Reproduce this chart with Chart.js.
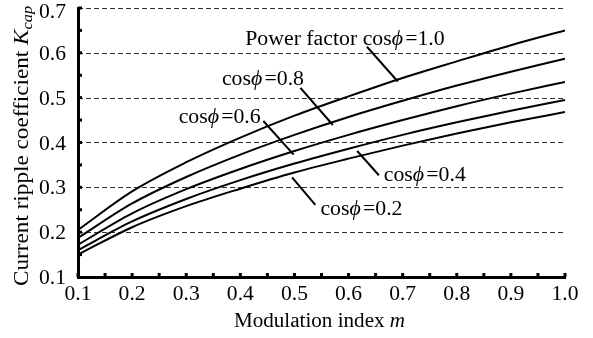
<!DOCTYPE html>
<html>
<head>
<meta charset="utf-8">
<script src="https://cdn.jsdelivr.net/npm/chart.js@4.4.0/dist/chart.umd.min.js"></script>
<style>
  html, body { margin: 0; padding: 0; background: #fff; }
  #chart { display: block; }
</style>
</head>
<body>
<canvas id="chart" width="593" height="338"></canvas>
<script>
// modulation index m
const mValues = [0.1, 0.2, 0.3, 0.4, 0.5, 0.6, 0.7, 0.8, 0.9, 1.0];

// K_cap for each power factor
const kPf10 = [0.205, 0.291, 0.356, 0.411, 0.460, 0.503, 0.544, 0.581, 0.617, 0.650];
const kPf08 = [0.187, 0.264, 0.323, 0.373, 0.417, 0.457, 0.493, 0.527, 0.558, 0.587];
const kPf06 = [0.172, 0.242, 0.296, 0.341, 0.381, 0.417, 0.450, 0.481, 0.509, 0.535];
const kPf04 = [0.160, 0.224, 0.274, 0.316, 0.353, 0.386, 0.417, 0.445, 0.471, 0.495];
const kPf02 = [0.150, 0.211, 0.258, 0.297, 0.333, 0.364, 0.393, 0.420, 0.445, 0.468];

const xTicks = [0.1, 0.2, 0.3, 0.4, 0.5, 0.6, 0.7, 0.8, 0.9, 1.0];
const yTicks = [0.1, 0.2, 0.3, 0.4, 0.5, 0.6, 0.7];
const gridValues = [0.2, 0.3, 0.4, 0.5, 0.6, 0.7];
const xMinor = [0.1, 0.15, 0.2, 0.25, 0.3, 0.35, 0.4, 0.45, 0.5, 0.55, 0.6, 0.65, 0.7, 0.75, 0.8, 0.85, 0.9, 0.95, 1.0];
const yMinor = [0.15, 0.2, 0.25, 0.3, 0.35, 0.4, 0.45, 0.5, 0.55, 0.6, 0.65, 0.7];

// curve labels: text start (m, K) and leader line (from -> to) in data units
const labels = [
  { pre: 'Power factor cos', val: '1.0', at: [0.409, 0.617], from: [0.634, 0.6135], to: [0.691, 0.536] },
  { pre: 'cos', val: '0.8', at: [0.366, 0.529], from: [0.511, 0.522], to: [0.571, 0.439] },
  { pre: 'cos', val: '0.6', at: [0.286, 0.4446], from: [0.4425, 0.448], to: [0.4985, 0.373] },
  { pre: 'cos', val: '0.4', at: [0.665, 0.3133], from: [0.616, 0.381], to: [0.656, 0.327] },
  { pre: 'cos', val: '0.2', at: [0.548, 0.2383], from: [0.4956, 0.3223], to: [0.5386, 0.2608] }
];

const FONT = "'Liberation Serif', 'Times New Roman', serif";
const FS = 20;

function pts(vals) {
  return vals.map((v, i) => ({ x: mValues[i], y: v }));
}

// draws mixed upright/italic runs, stretched horizontally by sx
function drawParts(ctx, parts, x, y, align, sx) {
  let total = 0;
  parts.forEach(p => {
    ctx.font = (p.it ? 'italic ' : '') + p.size + 'px ' + FONT;
    p.w = ctx.measureText(p.t).width;
    total += p.w + (p.gap || 0);
  });
  ctx.save();
  ctx.translate(x, y);
  ctx.scale(sx || 1, 1);
  let cx = align === 'center' ? -total / 2 : align === 'right' ? -total : 0;
  ctx.textAlign = 'left';
  parts.forEach(p => {
    ctx.font = (p.it ? 'italic ' : '') + p.size + 'px ' + FONT;
    cx += p.gap || 0;
    ctx.fillText(p.t, cx, p.dy || 0);
    cx += p.w;
  });
  ctx.restore();
}

const decor = {
  id: 'decor',
  beforeDatasetsDraw(chart) {
    const { ctx, chartArea, scales: { y } } = chart;
    ctx.save();
    ctx.strokeStyle = '#333';
    ctx.lineWidth = 1;
    ctx.setLineDash([5, 3]);
    gridValues.forEach(v => {
      const py = Math.round(y.getPixelForValue(v)) + 0.5;
      ctx.beginPath();
      ctx.moveTo(chartArea.left, py);
      ctx.lineTo(chartArea.right, py);
      ctx.stroke();
    });
    ctx.restore();
  },
  afterDraw(chart) {
    const { ctx, chartArea, scales: { x, y } } = chart;
    ctx.save();
    ctx.strokeStyle = '#000';
    ctx.fillStyle = '#000';
    ctx.textBaseline = 'alphabetic';
    ctx.lineWidth = 3;
    // inward minor ticks
    xMinor.forEach(v => {
      const px = x.getPixelForValue(v);
      ctx.beginPath();
      ctx.moveTo(px, chartArea.bottom);
      ctx.lineTo(px, chartArea.bottom - 4);
      ctx.stroke();
    });
    yMinor.forEach(v => {
      const py = y.getPixelForValue(v);
      ctx.beginPath();
      ctx.moveTo(chartArea.left, py);
      ctx.lineTo(chartArea.left + 4, py);
      ctx.stroke();
    });

    // tick labels
    xTicks.forEach(v => {
      drawParts(ctx, [{ t: v.toFixed(1), size: FS }], x.getPixelForValue(v), chartArea.bottom + 23, 'center', 1.08);
    });
    yTicks.forEach(v => {
      const py = Math.max(y.getPixelForValue(v) + 7, 18);
      drawParts(ctx, [{ t: v.toFixed(1), size: FS }], chartArea.left - 12, py, 'right', 1.08);
    });

    // leaders + labels
    ctx.lineWidth = 2;
    labels.forEach(l => {
      ctx.beginPath();
      ctx.moveTo(x.getPixelForValue(l.from[0]), y.getPixelForValue(l.from[1]));
      ctx.lineTo(x.getPixelForValue(l.to[0]), y.getPixelForValue(l.to[1]));
      ctx.stroke();
      drawParts(ctx, [
        { t: l.pre, size: FS },
        { t: '\u03D5', size: FS, it: true },
        { t: '=' + l.val, size: FS, gap: 2 }
      ], x.getPixelForValue(l.at[0]), y.getPixelForValue(l.at[1]), 'left', 1.09);
    });

    // axis titles
    drawParts(ctx, [
      { t: 'Modulation index ', size: FS },
      { t: 'm', size: FS, it: true }
    ], (chartArea.left + chartArea.right) / 2 - 2, 327, 'center', 1.055);

    ctx.save();
    ctx.translate(27.5, 146);
    ctx.rotate(-Math.PI / 2);
    drawParts(ctx, [
      { t: 'Current ripple coefficient ', size: FS },
      { t: 'K', size: FS, it: true },
      { t: 'cap', size: 14, it: true, dy: 4 }
    ], 0, 0, 'center', 1.16);
    ctx.restore();
    ctx.restore();
  }
};

new Chart(document.getElementById('chart'), {
  type: 'line',
  data: {
    datasets: [kPf10, kPf08, kPf06, kPf04, kPf02].map(vals => ({
      data: pts(vals),
      borderColor: '#000',
      borderWidth: 2,
      pointRadius: 0,
      fill: false,
      cubicInterpolationMode: 'monotone'
    }))
  },
  options: {
    responsive: false,
    animation: false,
    layout: { padding: { left: 0, right: 28, top: 8, bottom: 0 } },
    plugins: { legend: { display: false }, tooltip: { enabled: false } },
    scales: {
      x: {
        type: 'linear',
        min: xTicks[0],
        max: xTicks[xTicks.length - 1],
        ticks: { display: false },
        grid: { display: false, drawTicks: false },
        border: { display: true, color: '#000', width: 3 },
        afterFit(s) { s.height = 61; s.paddingLeft = 0; s.paddingRight = 0; }
      },
      y: {
        min: yTicks[0],
        max: yTicks[yTicks.length - 1],
        ticks: { display: false },
        grid: { display: false, drawTicks: false },
        border: { display: true, color: '#000', width: 3 },
        afterFit(s) { s.width = 78; s.paddingTop = 0; s.paddingBottom = 0; }
      }
    }
  },
  plugins: [decor]
});
</script>
</body>
</html>
